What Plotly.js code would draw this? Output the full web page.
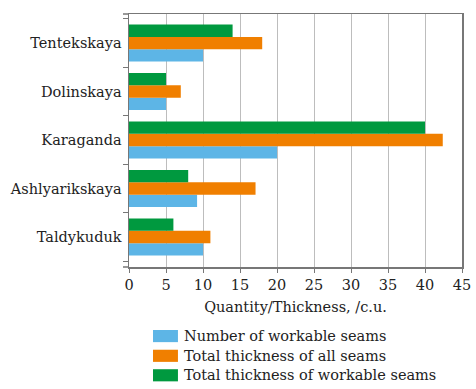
<!DOCTYPE html>
<html><head><meta charset="utf-8">
<script src="https://cdn.plot.ly/plotly-3.0.1.min.js"></script>
<style>html,body{margin:0;padding:0;background:#fff}</style>
</head><body>
<div id="chart" style="width:476px;height:389px"></div>
<script>
var categories = ["Taldykuduk", "Ashlyarikskaya", "Karaganda", "Dolinskaya", "Tentekskaya"];
var seriesNames = ["Number of workable seams", "Total thickness of all seams", "Total thickness of workable seams"];
var numberWorkable = [10, 9.2, 20, 5, 10];
var thicknessAll = [11, 17.1, 42.4, 7, 18];
var thicknessWorkable = [6, 8, 40, 5, 14];
var xTicks = [0, 5, 10, 15, 20, 25, 30, 35, 40, 45];
var colors = ["#5DB5E6", "#F07F00", "#00993F"];
var F = "DejaVu Serif, serif";
var vals = [numberWorkable, thicknessAll, thicknessWorkable];
var data = vals.map(function(v, i){
  return {type:"bar", orientation:"h", y:categories, x:v, name:seriesNames[i],
    marker:{color:colors[i], line:{width:0}}, hoverinfo:"skip", showlegend:false};
});
// custom legend (plot area: 333 px wide, 253 px tall)
var legRowY = [-0.273, -0.351, -0.428];
var shapes = [], annotations = [];
seriesNames.forEach(function(n, i){
  shapes.push({type:"rect", xref:"paper", yref:"paper", x0:0.072, x1:0.147,
    y0:legRowY[i]-0.024, y1:legRowY[i]+0.024, fillcolor:colors[i], line:{width:0}});
  annotations.push({xref:"paper", yref:"paper", x:0.159, y:legRowY[i], xanchor:"left", yanchor:"middle",
    text:n, showarrow:false, font:{family:F, size:14.5, color:"#222"}});
});
// small tick marks at the corners of the category axis
[0, 1].forEach(function(yy){
  shapes.push({type:"line", xref:"paper", yref:"paper", x0:-0.018, x1:0, y0:yy, y1:yy, line:{color:"#777", width:1.5}});
});
var layout = {
  width:476, height:389,
  margin:{l:129, r:14, t:14, b:122, autoexpand:false},
  barmode:"group", bargap:0.235, bargroupgap:0,
  paper_bgcolor:"#fff", plot_bgcolor:"#fff",
  font:{family:F, size:14, color:"#222"},
  xaxis:{range:[0,45], tickvals:xTicks, ticktext:xTicks.map(String), showgrid:true, gridcolor:"#bdbdbd", gridwidth:1,
    zeroline:false, showline:true, linecolor:"#777", linewidth:1.5, mirror:true, ticks:"outside", ticklen:4, tickcolor:"#777",
    tickfont:{family:F, size:14.5, color:"#222"}, automargin:false,
    title:{text:"Quantity/Thickness, /c.u.", font:{family:F, size:14.5, color:"#222"}, standoff:10}},
  yaxis:{type:"category", categoryarray:categories, range:[-0.62, 4.6], showline:true, linecolor:"#777", linewidth:1.5, mirror:true,
    ticks:"outside", tickson:"boundaries", ticklen:5, tickcolor:"#777", showgrid:false, automargin:false,
    tickfont:{family:F, size:14.5, color:"#222"}, ticklabelstandoff:3},
  showlegend:false,
  shapes:shapes, annotations:annotations
};
Plotly.newPlot("chart", data, layout, {displayModeBar:false, staticPlot:true});
</script>
</body></html>
